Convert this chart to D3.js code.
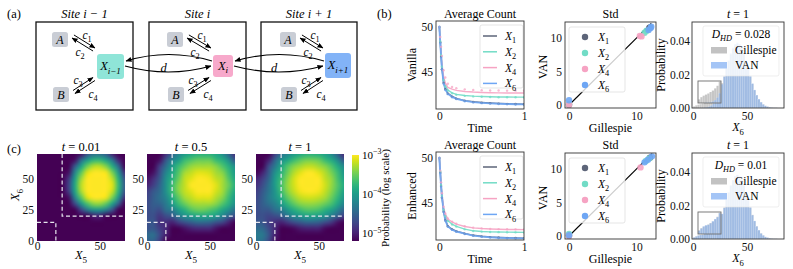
<!DOCTYPE html>
<html>
<head>
<meta charset="utf-8">
<script src="https://cdn.jsdelivr.net/npm/d3@7/dist/d3.min.js"></script>
<style>
html,body{margin:0;padding:0;background:#fff;}
svg{display:block;}
</style>
</head>
<body>
<svg id="fig" width="793" height="269" xmlns="http://www.w3.org/2000/svg"></svg>
<script>
// ================= DATA =================
// (a) reaction scheme labels
const siteTitles = ["Site i \u2212 1", "Site i", "Site i + 1"];
const siteSubs = ["i\u22121", "i", "i+1"];
const siteColors = ["#8fe5d8", "#f7a9cb", "#82b3f7"];
const rateLabels = ["1", "2", "3", "4"];

// (b) series
const seriesSubs = ["1", "2", "4", "6"];
const seriesColors = ["#5d6579", "#72dcc6", "#f6a3c3", "#6ea6f4"];
const timePoints = [0, 0.01, 0.02, 0.03, 0.05, 0.07, 0.1, 0.15, 0.2, 0.3, 0.4, 0.5, 0.6, 0.7, 0.8, 0.9, 1.0];

const vanillaGilX1 = [50, 48.3, 46.8, 45.4, 43.85, 43.15, 42.65, 42.3, 42.08, 41.83, 41.7, 41.62, 41.56, 41.52, 41.49, 41.46, 41.44];
const vanillaGilX2 = [50, 48.4, 47.0, 45.7, 44.2, 43.5, 43.0, 42.7, 42.52, 42.4, 42.33, 42.29, 42.26, 42.24, 42.23, 42.22, 42.22];
const vanillaGilX4 = [50, 48.5, 47.1, 45.9, 44.5, 43.8, 43.3, 43.1, 42.97, 42.85, 42.78, 42.74, 42.71, 42.69, 42.68, 42.67, 42.67];
const vanillaGilX6 = [50, 48.3, 46.8, 45.4, 43.8, 43.1, 42.6, 42.25, 42.04, 41.8, 41.66, 41.58, 41.52, 41.48, 41.45, 41.42, 41.41];
const vanillaVanX1 = [50, 48.3, 46.7, 45.3, 43.8, 43.1, 42.6, 42.27, 42.05, 41.81, 41.68, 41.6, 41.55, 41.5, 41.47, 41.45, 41.43];
const vanillaVanX2 = [50, 48.4, 46.9, 45.6, 44.1, 43.4, 42.95, 42.65, 42.48, 42.36, 42.3, 42.26, 42.23, 42.21, 42.2, 42.2, 42.19];
const vanillaVanX4 = [50, 48.9, 47.8, 46.8, 45.2, 44.4, 43.7, 43.35, 43.2, 43.08, 43.02, 42.98, 42.96, 42.95, 42.94, 42.94, 42.93];
const vanillaVanX6 = [50, 48.2, 46.6, 45.3, 43.7, 43.0, 42.55, 42.2, 42.0, 41.76, 41.63, 41.55, 41.5, 41.46, 41.43, 41.4, 41.39];

const enhancedGilX1 = [50, 48.4, 46.9, 45.7, 44.1, 43.15, 42.45, 42.1, 41.88, 41.62, 41.42, 41.31, 41.23, 41.18, 41.15, 41.13, 41.11];
const enhancedGilX2 = [50, 48.5, 47.1, 45.9, 44.3, 43.6, 43.05, 42.65, 42.42, 42.1, 41.92, 41.84, 41.8, 41.78, 41.77, 41.76, 41.75];
const enhancedGilX4 = [50, 48.6, 47.2, 46.0, 44.5, 43.8, 43.23, 42.9, 42.67, 42.4, 42.25, 42.17, 42.12, 42.09, 42.07, 42.06, 42.05];
const enhancedGilX6 = [50, 48.4, 46.9, 45.7, 44.1, 43.1, 42.4, 42.05, 41.84, 41.6, 41.39, 41.28, 41.2, 41.15, 41.12, 41.1, 41.08];
const enhancedVanX1 = [50, 48.4, 46.9, 45.6, 44.05, 43.1, 42.42, 42.08, 41.86, 41.6, 41.41, 41.3, 41.22, 41.17, 41.14, 41.12, 41.1];
const enhancedVanX2 = [50, 48.5, 47.0, 45.8, 44.25, 43.55, 43.0, 42.62, 42.4, 42.08, 41.9, 41.83, 41.79, 41.77, 41.76, 41.75, 41.74];
const enhancedVanX4 = [50, 48.6, 47.3, 46.1, 44.6, 43.85, 43.28, 42.93, 42.7, 42.42, 42.27, 42.19, 42.14, 42.11, 42.09, 42.08, 42.07];
const enhancedVanX6 = [50, 48.3, 46.8, 45.6, 44.0, 43.05, 42.38, 42.02, 41.82, 41.57, 41.37, 41.26, 41.18, 41.13, 41.1, 41.08, 41.06];

// Std scatter: [Gillespie std, VAN std]
const vanillaStdX1 = [[0, 0], [11.9, 11.5], [12.0, 11.6]];
const vanillaStdX2 = [[0, 0.1], [11.2, 10.8], [11.5, 11.1]];
const vanillaStdX4 = [[0, 0.05], [10.5, 10.3], [10.75, 10.25]];
const vanillaStdX6 = [[0, 0.7], [11.8, 11.2], [12.1, 11.5], [12.2, 11.7]];
const enhancedStdX1 = [[0, 0], [12.0, 11.7]];
const enhancedStdX2 = [[0, 0.3], [11.4, 11.2], [11.9, 11.6]];
const enhancedStdX4 = [[0, 0], [10.6, 10.25]];
const enhancedStdX6 = [[0, 0.1], [11.2, 11.0], [11.7, 11.4], [12.3, 11.9]];

// X6 histogram at t=1 (bins of width 2)
const histBinEdges = [0,2,4,6,8,10,12,14,16,18,20,22,24,26,28,30,32,34,36,38,40,42,44,46,48,50,52,54,56,58,60,62,64,66,68,70,72,74,76,78];
const histBinWidth = 2;
const gillespieHist = [0.0010,0.0016,0.0020,0.0023,0.0026,0.0030,0.0034,0.0040,0.0047,0.0058,
  0.0072,0.0090,0.0115,0.0148,0.0188,0.0233,0.0278,0.0318,0.0352,0.0373,
  0.0381,0.0374,0.0353,0.0320,0.0278,0.0233,0.0187,0.0144,0.0106,0.0076,
  0.0052,0.0034,0.0021,0.0013,0.0008,0.0004,0.0002,0.0001,0.0001,0];
const vanillaVanHist = [0,0,0,0.0001,0.0001,0.0002,0.0004,0.0008,0.0015,0.0027,
  0.0045,0.0070,0.0103,0.0142,0.0188,0.0237,0.0283,0.0326,0.0360,0.0382,
  0.0390,0.0382,0.0360,0.0326,0.0283,0.0237,0.0190,0.0146,0.0108,0.0077,
  0.0053,0.0035,0.0022,0.0013,0.0008,0.0004,0.0002,0.0001,0.0001,0];
const enhancedVanHist = [0.0009,0.0015,0.0021,0.0024,0.0025,0.0029,0.0035,0.0041,0.0046,0.0057,
  0.0073,0.0091,0.0113,0.0150,0.0186,0.0235,0.0276,0.0320,0.0350,0.0375,
  0.0383,0.0372,0.0355,0.0318,0.0280,0.0231,0.0189,0.0142,0.0108,0.0075,
  0.0053,0.0033,0.0022,0.0012,0.0008,0.0004,0.0002,0.0001,0.0001,0];
const dhdValues = ["0.028", "0.01"];
const rowNames = ["Vanilla", "Enhanced"];

// (c) joint distribution of (X5, X6), log10 probability on a 5-unit grid
const heatGridX = [0,5,10,15,20,25,30,35,40,45,50,55,60,65,70];
const heatGridY = [70,65,60,55,50,45,40,35,30,25,20,15,10,5,0]; // rows top -> bottom
const heatTitles = ["0.01", "0.5", "1"];
const heatT001 = [
 [-6,-6,-6,-6,-6,-6,-5.76,-5.09,-4.64,-4.40,-4.38,-4.57,-4.98,-5.60,-6],
 [-6,-6,-6,-6,-6,-6,-5.11,-4.44,-3.99,-3.75,-3.73,-3.92,-4.33,-4.96,-5.79],
 [-6,-6,-6,-6,-6,-5.48,-4.60,-3.93,-3.48,-3.24,-3.22,-3.42,-3.82,-4.45,-5.29],
 [-6,-6,-6,-6,-6,-5.11,-4.22,-3.56,-3.11,-2.87,-2.85,-3.04,-3.45,-4.07,-4.91],
 [-6,-6,-6,-6,-5.97,-4.87,-3.99,-3.33,-2.87,-2.64,-2.62,-2.81,-3.22,-3.84,-4.68],
 [-6,-6,-6,-6,-5.88,-4.78,-3.90,-3.23,-2.78,-2.54,-2.52,-2.72,-3.12,-3.75,-4.59],
 [-6,-6,-6,-6,-5.94,-4.84,-3.96,-3.30,-2.84,-2.61,-2.59,-2.78,-3.19,-3.81,-4.65],
 [-6,-6,-6,-6,-6,-5.12,-4.24,-3.58,-3.12,-2.89,-2.87,-3.06,-3.47,-4.09,-4.93],
 [-6,-6,-6,-6,-6,-5.62,-4.74,-4.07,-3.62,-3.38,-3.36,-3.55,-3.96,-4.59,-5.42],
 [-6,-6,-6,-6,-6,-6,-5.45,-4.78,-4.33,-4.09,-4.07,-4.26,-4.67,-5.30,-6],
 [-6,-6,-6,-6,-6,-6,-6,-5.70,-5.25,-5.02,-4.99,-5.19,-5.60,-6,-6],
 [-6,-6,-6,-6,-6,-6,-6,-6,-6,-6,-6,-6,-6,-6,-6],
 [-6,-6,-6,-6,-6,-6,-6,-6,-6,-6,-6,-6,-6,-6,-6],
 [-6,-6,-6,-6,-6,-6,-6,-6,-6,-6,-6,-6,-6,-6,-6],
 [-6,-6,-6,-6,-6,-6,-6,-6,-6,-6,-6,-6,-6,-6,-6]
];
const heatT05 = [
 [-6,-5.8,-5.3,-4.9,-4.5,-4.2,-4.0,-3.9,-3.8,-3.8,-3.8,-3.9,-4.1,-4.5,-4.9],
 [-5.8,-5.5,-5.1,-4.6,-4.2,-4.0,-3.7,-3.6,-3.5,-3.5,-3.5,-3.7,-3.8,-4.1,-4.6],
 [-5.5,-5.3,-4.8,-4.4,-4.0,-3.7,-3.5,-3.35,-3.3,-3.3,-3.3,-3.4,-3.6,-3.8,-4.1],
 [-5.3,-5.1,-4.7,-4.2,-3.9,-3.6,-3.3,-3.2,-3.1,-3.1,-3.15,-3.3,-3.4,-3.7,-4.0],
 [-5.1,-4.9,-4.6,-4.1,-3.8,-3.5,-3.2,-3.1,-3.0,-3.0,-3.05,-3.2,-3.3,-3.6,-3.9],
 [-5.0,-4.8,-4.5,-4.1,-3.7,-3.4,-3.2,-3.0,-2.95,-2.95,-3.0,-3.1,-3.3,-3.5,-3.8],
 [-4.8,-4.6,-4.45,-4.1,-3.7,-3.4,-3.2,-3.1,-3.0,-3.0,-3.0,-3.15,-3.3,-3.6,-3.9],
 [-4.75,-4.55,-4.4,-4.2,-3.85,-3.55,-3.3,-3.2,-3.1,-3.1,-3.1,-3.25,-3.4,-3.7,-4.0],
 [-4.7,-4.55,-4.5,-4.3,-4.0,-3.7,-3.5,-3.35,-3.3,-3.3,-3.3,-3.4,-3.6,-3.8,-4.1],
 [-4.7,-4.6,-4.7,-4.4,-4.3,-4.0,-3.8,-3.6,-3.5,-3.5,-3.6,-3.7,-3.9,-4.1,-4.4],
 [-4.7,-4.65,-4.85,-4.7,-4.6,-4.3,-4.1,-4.0,-3.9,-3.9,-3.9,-4.0,-4.2,-4.5,-4.7],
 [-4.65,-4.6,-4.9,-4.9,-5.0,-4.8,-4.65,-4.55,-4.45,-4.45,-4.5,-4.65,-4.75,-5.0,-5.3],
 [-4.65,-4.6,-4.8,-4.95,-5.2,-5.3,-5.1,-5.0,-4.95,-4.95,-4.95,-5.1,-5.2,-5.5,-5.8],
 [-4.45,-4.4,-4.7,-5.0,-5.3,-5.6,-5.7,-5.6,-5.5,-5.5,-5.5,-5.6,-5.8,-6,-6],
 [-4.55,-4.5,-4.8,-5.2,-5.5,-5.8,-6,-6,-6,-6,-6,-6,-6,-6,-6]
];
const heatT1 = [
 [-6,-5.8,-5.2,-4.8,-4.4,-4.2,-4.0,-3.9,-3.8,-3.8,-3.85,-3.95,-4.15,-4.55,-4.95],
 [-5.8,-5.4,-5.0,-4.5,-4.1,-3.9,-3.7,-3.55,-3.45,-3.45,-3.5,-3.7,-3.85,-4.15,-4.6],
 [-5.4,-5.2,-4.7,-4.3,-3.9,-3.6,-3.4,-3.3,-3.2,-3.2,-3.3,-3.4,-3.6,-3.85,-4.15],
 [-5.2,-5.0,-4.6,-4.1,-3.8,-3.5,-3.25,-3.1,-3.0,-3.0,-3.1,-3.25,-3.45,-3.7,-4.05],
 [-5.0,-4.8,-4.5,-4.0,-3.7,-3.4,-3.15,-3.0,-2.95,-2.95,-3.0,-3.2,-3.35,-3.65,-3.95],
 [-4.9,-4.7,-4.4,-4.0,-3.65,-3.35,-3.15,-3.0,-2.95,-2.95,-3.0,-3.15,-3.35,-3.6,-3.85],
 [-4.8,-4.6,-4.35,-4.05,-3.7,-3.4,-3.2,-3.05,-3.0,-3.0,-3.05,-3.2,-3.4,-3.65,-3.95],
 [-4.75,-4.55,-4.3,-4.1,-3.85,-3.55,-3.35,-3.2,-3.15,-3.15,-3.2,-3.3,-3.5,-3.75,-4.05],
 [-4.7,-4.55,-4.4,-4.25,-4.0,-3.75,-3.55,-3.4,-3.35,-3.35,-3.4,-3.5,-3.65,-3.9,-4.2],
 [-4.7,-4.6,-4.6,-4.4,-4.3,-4.05,-3.85,-3.7,-3.6,-3.6,-3.65,-3.8,-3.95,-4.2,-4.5],
 [-4.7,-4.65,-4.75,-4.7,-4.6,-4.35,-4.15,-4.05,-3.95,-3.95,-4.0,-4.1,-4.3,-4.55,-4.8],
 [-4.6,-4.6,-4.8,-4.9,-5.0,-4.85,-4.7,-4.6,-4.5,-4.5,-4.55,-4.7,-4.85,-5.1,-5.4],
 [-4.45,-4.45,-4.7,-4.95,-5.2,-5.3,-5.15,-5.05,-5.0,-5.0,-5.0,-5.15,-5.3,-5.6,-5.9],
 [-4.3,-4.3,-4.6,-5.0,-5.3,-5.6,-5.7,-5.65,-5.55,-5.55,-5.6,-5.7,-5.9,-6,-6],
 [-4.4,-4.4,-4.7,-5.1,-5.5,-5.8,-6,-6,-6,-6,-6,-6,-6,-6,-6]
];
const heatRegionUpper = [[20, 70], [20, 20], [70, 20]];
const heatRegionLower = [[0, 15], [15, 15], [15, 0]];
const heatLogMin = -5.2, heatLogMax = -3.0;
const colorbarTicks = [-3, -4, -5];

// tick values
const avgXTicks = [0, 1], avgYTicks = [45, 50];
const stdXTicks = [0, 10], stdYTicks = [0, 5, 10];
const histXTicks = [0, 50], histYTicks = [0, 0.02, 0.04];
const heatXTicks = [0, 50], heatYTicks = [0, 25, 50];

// ================= DRAWING =================
const SERIF = '"Liberation Serif","Times New Roman",serif';
const svg = d3.select('#fig');
const defs = svg.append('defs');
defs.append('marker').attr('id', 'ah').attr('viewBox', '0 0 12 10').attr('refX', 11).attr('refY', 5)
  .attr('markerWidth', 6).attr('markerHeight', 5).attr('markerUnits', 'userSpaceOnUse').attr('orient', 'auto')
  .append('path').attr('d', 'M0,0 L12,5 L0,10 Z').attr('fill', '#000');

let clipId = 0;
function clipRect(x, y, w, h) {
  const id = 'clip' + (clipId++);
  defs.append('clipPath').attr('id', id).append('rect').attr('x', x).attr('y', y).attr('width', w).attr('height', h);
  return 'url(#' + id + ')';
}

function mtext(g, x, y, parts, o = {}) {
  const fs = o.size || 12;
  const t = g.append('text').attr('x', x).attr('y', y).attr('font-family', SERIF).attr('font-size', fs)
    .attr('text-anchor', o.anchor || 'start').attr('fill', o.fill || '#000');
  if (o.rotate) t.attr('transform', `rotate(-90,${x},${y})`);
  let shift = 0;
  parts.forEach(p => {
    const s = p[0], st = p[1] || {};
    const ts = t.append('tspan').text(s);
    if (st.italic) ts.attr('font-style', 'italic');
    const target = st.sub ? fs * 0.3 : (st.sup ? -fs * 0.42 : 0);
    if (target !== shift) { ts.attr('dy', target - shift); shift = target; }
    if (st.sub || st.sup) ts.attr('font-size', fs * 0.72);
  });
  return t;
}

function styleAxis(a, fs) {
  a.select('.domain').remove();
  a.selectAll('line').remove();
  a.selectAll('text').attr('font-family', SERIF).attr('font-size', fs || 11.5).attr('fill', '#111');
  return a;
}

// ---------- panel labels ----------
mtext(svg, 7, 18, [["(a)"]], { size: 12.5 });
mtext(svg, 377, 18, [["(b)"]], { size: 12.5 });
mtext(svg, 7, 153, [["(c)"]], { size: 12.5 });

// ---------- (a) ----------
const ga = svg.append('g');
const boxX = [36, 149, 261], boxW = [97, 97, 96];
const aX = [52, 167, 280];
const xBoxL = [97, 213, 325], xBoxW = [27, 20, 26], xBoxT = [54, 55, 53], xBoxH = [25, 22, 25];

function doubleArrow(x1, y1, x2, y2, off) {
  const dx = x2 - x1, dy = y2 - y1, L = Math.hypot(dx, dy);
  const nx = dy / L * off, ny = -dx / L * off;
  ga.append('line').attr('x1', x1 + nx).attr('y1', y1 + ny).attr('x2', x2 + nx).attr('y2', y2 + ny)
    .attr('stroke', '#000').attr('stroke-width', 1).attr('marker-end', 'url(#ah)');
  ga.append('line').attr('x1', x2 - nx).attr('y1', y2 - ny).attr('x2', x1 - nx).attr('y2', y1 - ny)
    .attr('stroke', '#000').attr('stroke-width', 1).attr('marker-end', 'url(#ah)');
}

siteTitles.forEach((title, k) => {
  ga.append('rect').attr('x', boxX[k]).attr('y', 22).attr('width', boxW[k]).attr('height', 88)
    .attr('fill', 'none').attr('stroke', '#111').attr('stroke-width', 1.3);
  ga.append('text').attr('x', boxX[k] + boxW[k] / 2).attr('y', 18).attr('text-anchor', 'middle')
    .attr('font-family', SERIF).attr('font-style', 'italic').attr('font-size', 12.5).text(title);
  ga.append('rect').attr('x', aX[k]).attr('y', 32).attr('width', 16).attr('height', 15).attr('rx', 2.5).attr('fill', '#c9cdd5');
  mtext(ga, aX[k] + 8, 44, [["A", { italic: true }]], { anchor: 'middle', size: 12 });
  ga.append('rect').attr('x', aX[k] + 1).attr('y', 87).attr('width', 16).attr('height', 15).attr('rx', 2.5).attr('fill', '#c9cdd5');
  mtext(ga, aX[k] + 9, 99, [["B", { italic: true }]], { anchor: 'middle', size: 12 });
  ga.append('rect').attr('x', xBoxL[k]).attr('y', xBoxT[k]).attr('width', xBoxW[k]).attr('height', xBoxH[k])
    .attr('rx', 3).attr('fill', siteColors[k]);
  mtext(ga, xBoxL[k] + xBoxW[k] / 2, xBoxT[k] + xBoxH[k] / 2 + 3.5, [["X", { italic: true }], [siteSubs[k], { sub: true, italic: true }]], { anchor: 'middle', size: 12.5 });
  doubleArrow(aX[k] + 21, 36.5, xBoxL[k] - 3, 49.5, 1.8);
  doubleArrow(aX[k] + 22, 92, xBoxL[k] - 3, 79, 1.8);
  mtext(ga, aX[k] + 35, 39, [["c", { italic: true }], [rateLabels[0], { sub: true }]], { anchor: 'middle', size: 11.5 });
  mtext(ga, aX[k] + 28, 56, [["c", { italic: true }], [rateLabels[1], { sub: true }]], { anchor: 'middle', size: 11.5 });
  mtext(ga, aX[k] + 26, 84, [["c", { italic: true }], [rateLabels[2], { sub: true }]], { anchor: 'middle', size: 11.5 });
  mtext(ga, aX[k] + 41, 98, [["c", { italic: true }], [rateLabels[3], { sub: true }]], { anchor: 'middle', size: 11.5 });
});
for (let k = 0; k < 2; k++) {
  const xr = xBoxL[k] + xBoxW[k], xl2 = xBoxL[k + 1], mid = (xr + xl2) / 2;
  ga.append('path').attr('d', `M${xl2 - 1},61 Q${mid},48 ${xr + 2},61`).attr('fill', 'none')
    .attr('stroke', '#000').attr('stroke-width', 1.1).attr('marker-end', 'url(#ah)');
  ga.append('path').attr('d', `M${xr + 1},66 Q${mid},78 ${xl2 - 2},66`).attr('fill', 'none')
    .attr('stroke', '#000').attr('stroke-width', 1.1).attr('marker-end', 'url(#ah)');
  mtext(ga, mid - 5, 71.5, [["d", { italic: true }]], { anchor: 'middle', size: 12.5 });
}

// ---------- (b) ----------
const rowData = [
  { gil: [vanillaGilX1, vanillaGilX2, vanillaGilX4, vanillaGilX6], van: [vanillaVanX1, vanillaVanX2, vanillaVanX4, vanillaVanX6],
    std: [vanillaStdX1, vanillaStdX2, vanillaStdX4, vanillaStdX6], vanHist: vanillaVanHist },
  { gil: [enhancedGilX1, enhancedGilX2, enhancedGilX4, enhancedGilX6], van: [enhancedVanX1, enhancedVanX2, enhancedVanX4, enhancedVanX6],
    std: [enhancedStdX1, enhancedStdX2, enhancedStdX4, enhancedStdX6], vanHist: enhancedVanHist }
];
const gillColor = '#b3b3b3', vanColor = '#86b2f3';
const LABEL_FS = 12;

rowData.forEach((row, r) => {
  const dy = r * 131;
  const g = svg.append('g');
  // ---- Average count ----
  {
    const L = 436, R = 524, T = 21 + dy, B = 109 + dy;
    const xs = d3.scaleLinear().domain([-0.04, 1.0]).range([L, R]);
    const ys = d3.scaleLinear().domain([40.9, 50.67]).range([B, T]);
    const pg = g.append('g').attr('clip-path', clipRect(L, T, R - L, B - T));
    const line = d3.line().x((d, i) => xs(timePoints[i])).y(d => ys(d));
    row.gil.forEach((s, k) => {
      pg.append('path').datum(s).attr('d', line).attr('fill', 'none').attr('stroke', seriesColors[k])
        .attr('stroke-width', k === 3 ? 1.9 : 1.4).attr('stroke-opacity', 0.9);
    });
    row.van.forEach((s, k) => {
      pg.selectAll(null).data(s).join('circle').attr('cx', (d, i) => xs(timePoints[i])).attr('cy', d => ys(d))
        .attr('r', 1.2).attr('fill', seriesColors[k]).attr('fill-opacity', 0.75);
    });
    styleAxis(g.append('g').attr('transform', `translate(0,${B})`).call(d3.axisBottom(xs).tickValues(avgXTicks).tickSize(0).tickPadding(3).tickFormat(d3.format('d'))));
    styleAxis(g.append('g').attr('transform', `translate(${L},0)`).call(d3.axisLeft(ys).tickValues(avgYTicks).tickSize(0).tickPadding(3).tickFormat(d3.format('d'))));
    g.append('rect').attr('x', 480).attr('y', 25 + dy).attr('width', 43).attr('height', 63).attr('rx', 2)
      .attr('fill', '#fff').attr('fill-opacity', 0.8).attr('stroke', '#d4d4d4').attr('stroke-width', 0.6);
    seriesSubs.forEach((s, k) => {
      const ly = 36 + k * 15.8 + dy;
      g.append('line').attr('x1', 483).attr('x2', 497).attr('y1', ly).attr('y2', ly).attr('stroke', seriesColors[k]).attr('stroke-width', 1.5);
      mtext(g, 505, ly + 4, [["X", { italic: true }], [s, { sub: true }]], { size: 11.5 });
    });
    g.append('rect').attr('x', L).attr('y', T).attr('width', R - L).attr('height', B - T).attr('fill', 'none').attr('stroke', '#333').attr('stroke-width', 0.9);
    mtext(g, (L + R) / 2, 18 + dy, [["Average Count"]], { anchor: 'middle', size: LABEL_FS });
    mtext(g, (L + R) / 2, 132 + dy, [["Time"]], { anchor: 'middle', size: LABEL_FS });
    mtext(g, 416, 65 + dy, [[rowNames[r]]], { anchor: 'middle', size: LABEL_FS, rotate: true });
  }
  // ---- Std ----
  {
    const L = 565, R = 656, T = 22 + dy, B = 108 + dy;
    const xs = d3.scaleLinear().domain([-0.6, 12.9]).range([L, R]);
    const ys = d3.scaleLinear().domain([-0.45, 12.4]).range([B, T]);
    const pg = g.append('g').attr('clip-path', clipRect(L, T, R - L, B - T));
    const allStd = row.std.flat();
    const mx = d3.max(allStd, d => d[0]);
    pg.append('line').attr('x1', xs(0)).attr('y1', ys(0)).attr('x2', xs(mx)).attr('y2', ys(mx)).attr('stroke', '#000').attr('stroke-width', 1.1);
    row.std.forEach((s, k) => {
      pg.selectAll(null).data(s).join('circle').attr('cx', d => xs(d[0])).attr('cy', d => ys(d[1]))
        .attr('r', 3.2).attr('fill', seriesColors[k]).attr('fill-opacity', 0.9);
    });
    styleAxis(g.append('g').attr('transform', `translate(0,${B})`).call(d3.axisBottom(xs).tickValues(stdXTicks).tickSize(0).tickPadding(4).tickFormat(d3.format('d'))));
    styleAxis(g.append('g').attr('transform', `translate(${L},0)`).call(d3.axisLeft(ys).tickValues(stdYTicks).tickSize(0).tickPadding(3).tickFormat(d3.format('d'))));
    g.append('rect').attr('x', 569).attr('y', 27 + dy).attr('width', 56).attr('height', 65).attr('rx', 2)
      .attr('fill', '#fff').attr('fill-opacity', 0.8).attr('stroke', '#d4d4d4').attr('stroke-width', 0.6);
    seriesSubs.forEach((s, k) => {
      const ly = 37 + k * 16 + dy;
      g.append('circle').attr('cx', 585).attr('cy', ly).attr('r', 3.2).attr('fill', seriesColors[k]);
      mtext(g, 598, ly + 4, [["X", { italic: true }], [s, { sub: true }]], { size: 11.5 });
    });
    g.append('rect').attr('x', L).attr('y', T).attr('width', R - L).attr('height', B - T).attr('fill', 'none').attr('stroke', '#333').attr('stroke-width', 0.9);
    mtext(g, (L + R) / 2, 18 + dy, [["Std"]], { anchor: 'middle', size: LABEL_FS });
    mtext(g, (L + R) / 2, 132 + dy, [["Gillespie"]], { anchor: 'middle', size: LABEL_FS });
    mtext(g, 547, 67 + dy, [["VAN"]], { anchor: 'middle', size: LABEL_FS, rotate: true });
  }
  // ---- Histogram ----
  {
    const L = 692, R = 784, T = 22 + dy, B = 108 + dy;
    const xs = d3.scaleLinear().domain([-1, 84.2]).range([L, R]);
    const ys = d3.scaleLinear().domain([0, 0.0513]).range([B, T]);
    const pg = g.append('g').attr('clip-path', clipRect(L, T, R - L, B - T));
    const drawBars = (sel, vals, color, op, xsc, ysc) => {
      sel.selectAll(null).data(vals).join('rect')
        .attr('x', (d, i) => xsc(histBinEdges[i])).attr('width', (d, i) => xsc(histBinEdges[i] + histBinWidth) - xsc(histBinEdges[i]))
        .attr('y', d => ysc(d)).attr('height', d => ysc(0) - ysc(d))
        .attr('fill', color).attr('fill-opacity', op).attr('stroke', '#fff').attr('stroke-width', 0.2).attr('stroke-opacity', 0.45);
    };
    drawBars(pg, gillespieHist, gillColor, 0.7, xs, ys);
    drawBars(pg, row.vanHist, vanColor, 0.6, xs, ys);
    const iL = 698, iR = 721, iT = 81 + dy, iB = 103 + dy;
    const ixs = d3.scaleLinear().domain([0, 20]).range([iL, iR]);
    const iys = d3.scaleLinear().domain([0, 0.006]).range([iB, iT]);
    g.append('rect').attr('x', iL).attr('y', iT).attr('width', iR - iL).attr('height', iB - iT).attr('fill', '#fff');
    const ig = g.append('g').attr('clip-path', clipRect(iL, iT, iR - iL, iB - iT));
    drawBars(ig, gillespieHist, gillColor, 0.75, ixs, iys);
    drawBars(ig, row.vanHist, vanColor, 0.6, ixs, iys);
    g.append('rect').attr('x', iL).attr('y', iT).attr('width', iR - iL).attr('height', iB - iT).attr('fill', 'none').attr('stroke', '#6d6d6d').attr('stroke-width', 0.9);

    styleAxis(g.append('g').attr('transform', `translate(0,${B})`).call(d3.axisBottom(xs).tickValues(histXTicks).tickSize(0).tickPadding(4).tickFormat(d3.format('d'))));
    styleAxis(g.append('g').attr('transform', `translate(${L},0)`).call(d3.axisLeft(ys).tickValues(histYTicks).tickSize(0).tickPadding(2).tickFormat(d3.format('.2f'))));
    g.append('rect').attr('x', 703).attr('y', 26 + dy).attr('width', 76).attr('height', 50).attr('rx', 2)
      .attr('fill', '#fff').attr('fill-opacity', 0.8).attr('stroke', '#e2e2e2').attr('stroke-width', 0.6);
    mtext(g, 741, 38 + dy, [["D", { italic: true }], ["HD", { sub: true, italic: true }], [" = " + dhdValues[r]]], { anchor: 'middle', size: 11.5 });
    g.append('rect').attr('x', 711).attr('y', 47 + dy).attr('width', 16).attr('height', 6.5).attr('fill', gillColor).attr('fill-opacity', 0.8);
    mtext(g, 735, 53.5 + dy, [["Gillespie"]], { size: 11.5 });
    g.append('rect').attr('x', 711).attr('y', 62 + dy).attr('width', 16).attr('height', 6.5).attr('fill', vanColor).attr('fill-opacity', 0.75);
    mtext(g, 735, 68.5 + dy, [["VAN"]], { size: 11.5 });
    g.append('rect').attr('x', L).attr('y', T).attr('width', R - L).attr('height', B - T).attr('fill', 'none').attr('stroke', '#333').attr('stroke-width', 0.9);
    mtext(g, (L + R) / 2, 18 + dy, [["t", { italic: true }], [" = 1"]], { anchor: 'middle', size: LABEL_FS });
    mtext(g, (L + R) / 2, 131 + dy, [["X", { italic: true }], ["6", { sub: true }]], { anchor: 'middle', size: LABEL_FS });
    mtext(g, 665, 65 + dy, [["Probability"]], { anchor: 'middle', size: LABEL_FS, rotate: true });
  }
});

// ---------- (c) ----------
const heatColor = v => d3.interpolateViridis(Math.max(0, Math.min(1, (v - heatLogMin) / (heatLogMax - heatLogMin))));
function heatImage(grid) {
  const n = grid.length, m = grid[0].length;
  const c = document.createElement('canvas'); c.width = m; c.height = n;
  const ctx = c.getContext('2d');
  const img = ctx.createImageData(m, n);
  grid.forEach((rowv, r) => rowv.forEach((v, i) => {
    const col = d3.rgb(heatColor(v)); const k = (r * m + i) * 4;
    img.data[k] = col.r; img.data[k + 1] = col.g; img.data[k + 2] = col.b; img.data[k + 3] = 255;
  }));
  ctx.putImageData(img, 0, 0);
  const big = document.createElement('canvas'); big.width = m * 10; big.height = n * 10;
  const bctx = big.getContext('2d');
  bctx.imageSmoothingEnabled = true; bctx.imageSmoothingQuality = 'high';
  bctx.drawImage(c, 0, 0, big.width, big.height);
  return big.toDataURL();
}
const heatX = [37, 147, 256];
const heatMaps = [heatT001, heatT05, heatT1];
const gc = svg.append('g');
heatMaps.forEach((grid, k) => {
  const L = heatX[k], R = L + 88, T = 154, B = 241;
  const xs = d3.scaleLinear().domain([0, 70]).range([L, R]);
  const ys = d3.scaleLinear().domain([0, 70]).range([B, T]);
  const half = (heatGridX[1] - heatGridX[0]) / 2;
  const x0 = xs(heatGridX[0] - half), x1 = xs(heatGridX[heatGridX.length - 1] + half);
  const y0 = ys(heatGridY[0] + half), y1 = ys(heatGridY[heatGridY.length - 1] - half);
  gc.append('image').attr('href', heatImage(grid)).attr('x', x0).attr('y', y0)
    .attr('width', x1 - x0).attr('height', y1 - y0).attr('preserveAspectRatio', 'none')
    .attr('clip-path', clipRect(L, T, R - L, B - T));
  const ln = d3.line().x(d => xs(d[0])).y(d => ys(d[1]));
  [heatRegionUpper, heatRegionLower].forEach(reg => {
    gc.append('path').datum(reg).attr('d', ln).attr('fill', 'none').attr('stroke', '#e6e6ee')
      .attr('stroke-width', 1.2).attr('stroke-dasharray', '4,2.6');
  });
  styleAxis(gc.append('g').attr('transform', `translate(0,${B})`).call(d3.axisBottom(xs).tickValues(heatXTicks).tickSize(0).tickPadding(1).tickFormat(d3.format('d'))));
  styleAxis(gc.append('g').attr('transform', `translate(${L},0)`).call(d3.axisLeft(ys).tickValues(heatYTicks).tickSize(0).tickPadding(3).tickFormat(d3.format('d'))));
  mtext(gc, (L + R) / 2, 151, [["t", { italic: true }], [" = " + heatTitles[k]]], { anchor: 'middle', size: 12.5 });
  mtext(gc, (L + R) / 2, 259, [["X", { italic: true }], ["5", { sub: true }]], { anchor: 'middle', size: 12.5 });
});
mtext(gc, 19, 195, [["X", { italic: true }], ["6", { sub: true }]], { anchor: 'middle', size: 12.5, rotate: true });

const cbT = 155, cbB = 241, cbL = 352, cbW = 7;
const grad = defs.append('linearGradient').attr('id', 'viridisGrad').attr('x1', 0).attr('y1', 1).attr('x2', 0).attr('y2', 0);
d3.range(0, 1.0001, 0.05).forEach(t => grad.append('stop').attr('offset', t).attr('stop-color', d3.interpolateViridis(t)));
gc.append('rect').attr('x', cbL).attr('y', cbT).attr('width', cbW).attr('height', cbB - cbT).attr('fill', 'url(#viridisGrad)');
const cbs = d3.scaleLinear().domain([heatLogMin, heatLogMax]).range([cbB, cbT]);
colorbarTicks.forEach(v => {
  mtext(gc, cbL + cbW + 3, cbs(v) + 4, [["10"], ["\u2212" + Math.abs(v), { sup: true }]], { size: 11 });
});
mtext(gc, 389, 198, [["Probability (log scale)"]], { anchor: 'middle', size: 11, rotate: true });
</script>
</body>
</html>
